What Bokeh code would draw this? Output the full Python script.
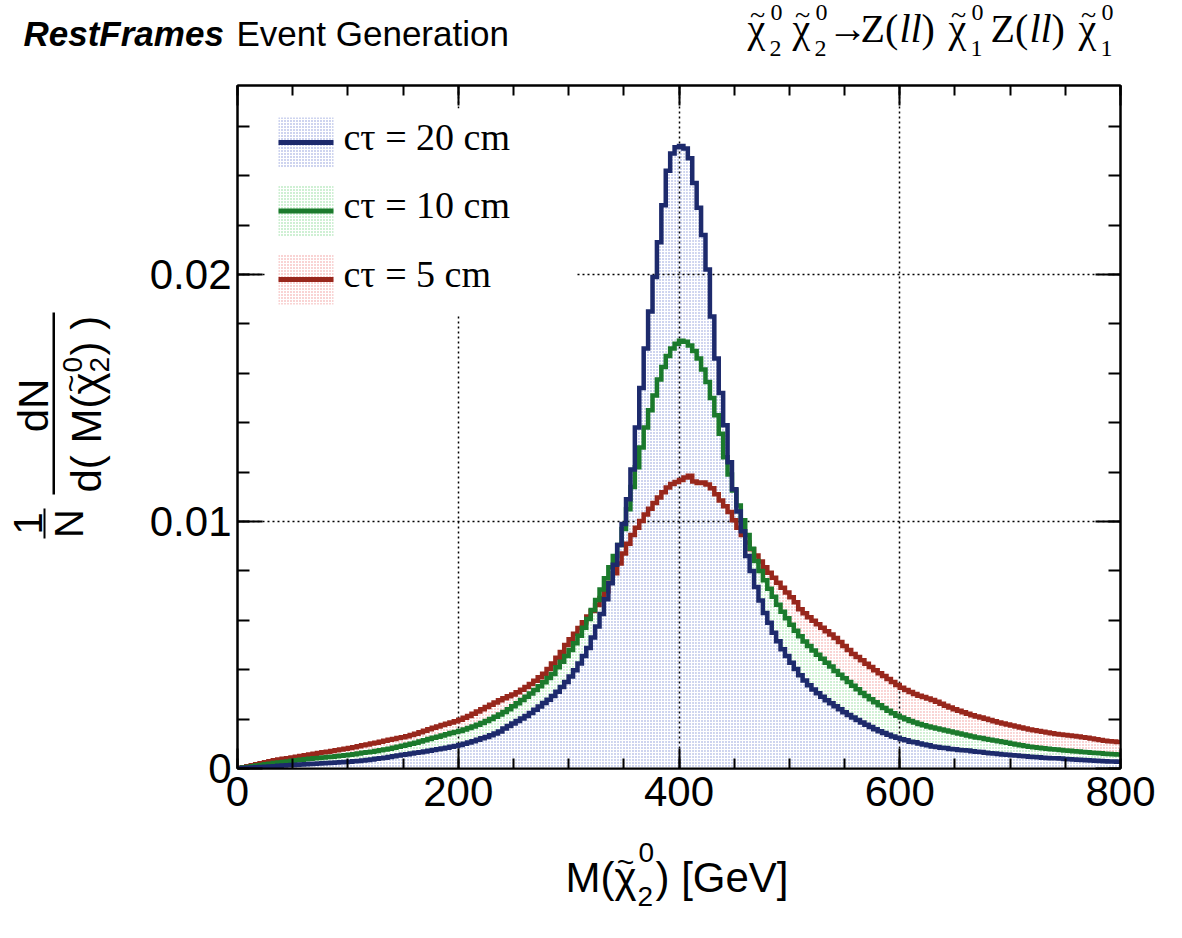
from bokeh.plotting import figure
from bokeh.layouts import column, row
from bokeh.models import (FixedTicker, LinearAxis, Range1d, Label, BoxAnnotation,
                          NumeralTickFormatter)
from bokeh.core.properties import value
from bokeh.embed import file_html
from bokeh.resources import INLINE

# ---------------------------------------------------------------------------
# Reconstructed neutralino mass, 200 bins of 4 GeV between 0 and 800 GeV.
# Normalised densities (1/N dN/dM) in units of 1e-5 per GeV.
# ---------------------------------------------------------------------------
bin_lo, bin_width, n_bins = 0.0, 4.0, 200
DENS_UNIT = 1e-5

ctau20 = [
    1, 2, 3, 4, 5, 6, 7, 8, 9, 11,
    12, 13, 14, 15, 16, 17, 18, 19, 20, 21,
    22, 23, 24, 25, 26, 27, 29, 30, 32, 34,
    36, 39, 42, 44, 47, 50, 53, 56, 58, 61,
    64, 66, 69, 72, 75, 78, 81, 84, 88, 91,
    95, 100, 105, 110, 116, 122, 128, 135, 142, 150,
    162, 172, 182, 192, 202, 213, 225, 238, 251, 265,
    278, 294, 311, 330, 350, 372, 398, 425, 455, 488,
    530, 575, 625, 685, 750, 825, 905, 990, 1090, 1210,
    1380, 1540, 1700, 1850, 1990, 2130, 2280, 2420, 2490, 2515,
    2520, 2510, 2470, 2370, 2270, 2160, 2020, 1830, 1660, 1520,
    1390, 1240, 1130, 1040, 960, 860, 800, 735, 680, 630,
    590, 550, 515, 483, 455, 428, 403, 378, 356, 337,
    320, 305, 290, 276, 264, 252, 240, 228, 217, 206,
    196, 186, 177, 168, 159, 151, 144, 137, 130, 124,
    118, 114, 108, 106, 101, 97, 94, 89, 87, 84,
    83, 79, 78, 75, 74, 73, 70, 68, 67, 64,
    62, 61, 59, 57, 56, 54, 53, 51, 50, 48,
    47, 46, 44, 43, 42, 41, 40, 38, 37, 36,
    35, 34, 33, 32, 31, 30, 29, 28, 28, 27,
]

ctau10 = [
    1, 4, 6, 9, 12, 14, 17, 19, 22, 24,
    26, 28, 31, 33, 35, 37, 39, 41, 43, 45,
    47, 48, 50, 52, 54, 56, 58, 61, 64, 66,
    68, 71, 74, 77, 80, 84, 88, 92, 96, 100,
    104, 109, 114, 119, 124, 129, 134, 139, 144, 148,
    152, 158, 164, 170, 177, 184, 192, 200, 209, 219,
    229, 240, 252, 264, 277, 290, 304, 318, 333, 349,
    366, 383, 410, 432, 455, 480, 507, 537, 570, 605,
    642, 682, 725, 770, 815, 860, 905, 970, 1050, 1140,
    1220, 1300, 1380, 1450, 1510, 1575, 1625, 1670, 1700, 1720,
    1732, 1728, 1712, 1690, 1660, 1615, 1565, 1500, 1430, 1355,
    1260, 1190, 1125, 1065, 1005, 945, 890, 840, 800, 762,
    728, 695, 663, 635, 608, 582, 558, 535, 514, 496,
    478, 461, 444, 428, 413, 395, 380, 365, 350, 335,
    321, 306, 293, 280, 268, 256, 245, 234, 224, 214,
    206, 199, 192, 186, 180, 175, 170, 166, 162, 158,
    154, 150, 146, 142, 138, 134, 130, 126, 123, 119,
    116, 113, 110, 107, 104, 100, 97, 94, 91, 88,
    86, 84, 82, 80, 78, 77, 75, 73, 72, 70,
    69, 67, 66, 64, 63, 62, 60, 59, 58, 57,
]

ctau5 = [
    2, 5, 9, 13, 17, 21, 25, 29, 33, 36,
    39, 42, 45, 48, 51, 54, 57, 60, 63, 66,
    68, 71, 74, 77, 80, 83, 86, 90, 94, 97,
    101, 104, 108, 112, 116, 119, 123, 127, 131, 136,
    141, 147, 153, 159, 165, 170, 176, 181, 186, 191,
    197, 205, 213, 222, 231, 240, 249, 258, 267, 276,
    284, 292, 300, 309, 319, 330, 342, 355, 369, 384,
    403, 425, 448, 472, 500, 523, 546, 569, 592, 615,
    638, 662, 690, 718, 752, 790, 830, 870, 910, 945,
    975, 1002, 1028, 1052, 1075, 1097, 1118, 1138, 1152, 1160,
    1168, 1178, 1185, 1162, 1156, 1158, 1150, 1135, 1110, 1085,
    1062, 1038, 1005, 975, 945, 915, 888, 862, 838, 815,
    792, 772, 752, 732, 712, 693, 673, 645, 628, 612,
    598, 584, 570, 556, 542, 528, 512, 496, 480, 464,
    451, 438, 424, 411, 398, 386, 374, 362, 350, 338,
    327, 318, 310, 302, 295, 289, 283, 277, 270, 262,
    254, 247, 240, 234, 228, 222, 216, 211, 206, 201,
    196, 191, 186, 182, 178, 174, 170, 166, 162, 158,
    155, 152, 149, 146, 143, 140, 138, 136, 134, 132,
    130, 127, 124, 121, 118, 115, 112, 110, 109, 107,
]

legend_labels = ["c\u03c4 = 20 cm", "c\u03c4 = 10 cm", "c\u03c4 = 5 cm"]
line_colors = ["#1d2a6c", "#1b7a2c", "#98271c"]
dot_colors = ["#8393d6", "#86d893", "#f09494"]

x_ticks = [0, 200, 400, 600, 800]
y_ticks = [0.0, 0.01, 0.02]

SANS = "Liberation Sans"
SERIF = "Liberation Serif"

# ---------------------------------------------------------------------------
# page geometry (pixels)
W, H = 1182, 938
HEAD_H = 80                 # header strip
LEFT_W = 130                # strip holding the rotated y title
MAIN_W, MAIN_H = W - LEFT_W, 753
XT_H = H - HEAD_H - MAIN_H  # strip holding the x title
FL, FR, FT, FB = 237, 1120, 85, 768          # frame edges on the page


def strip(x0, y0, w, h, pad_l=0, pad_r=0):
    """A blank figure whose data coordinates are page pixels."""
    f = figure(width=w, height=h, output_backend="svg", toolbar_location=None,
               x_axis_type=None, y_axis_type=None,
               x_range=Range1d(x0 + pad_l, x0 + w - pad_r),
               y_range=Range1d(y0 + h, y0),
               min_border=0, min_border_left=pad_l, min_border_right=pad_r,
               outline_line_color=None,
               background_fill_color="white", border_fill_color="white")
    f.xgrid.visible = False
    f.ygrid.visible = False
    return f


def txt(f, text, X, Y, size, font=SANS, style="normal", align="left", angle=0):
    """Text whose glyph box is centred on Y (or on X when rotated)."""
    f.text(x=[X], y=[Y], text=[text], text_font=value(font),
           text_font_size=value(f"{size}px"), text_font_style=style,
           text_align=align, text_baseline="middle", text_color="black",
           angle=angle, angle_units="deg")


# ---------------------------------------------------------------------------
# header strip
head = strip(0, 0, W, HEAD_H)
txt(head, "RestFrames", 23, 33, 35, style="bold italic")
txt(head, "Event Generation", 236, 33, 35)

TC = 28   # centre line of the process label
for cx, sub in ((747, "2"), (792, "2"), (948, "1"), (1078, "1")):
    txt(head, "\u03c7", cx, TC, 40, font=SERIF)
    txt(head, "~", cx + 10, 14, 28, font=SERIF, align="center")
    txt(head, sub, cx + 22, 48, 24, font=SERIF)
    txt(head, "0", cx + 23, 12, 24, font=SERIF)
txt(head, "\u2192", 827, TC, 40, font=SERIF)
for zx in (860, 990):
    txt(head, "Z(", zx, TC, 40, font=SERIF)
    txt(head, "ll", zx + 39, TC, 40, font=SERIF, style="italic")
    txt(head, ")", zx + 61, TC, 40, font=SERIF)

# ---------------------------------------------------------------------------
# left strip: rotated y title  1/N dN/d( M(chi2) )
left = strip(0, HEAD_H, LEFT_W, H - HEAD_H)
txt(left, "1", 27, 523, 40, align="center", angle=90)
left.quad(left=[43], right=[45], top=[508], bottom=[538], fill_color="black",
          line_color=None)
txt(left, "N", 68, 523, 40, align="center", angle=90)
txt(left, "dN", 33, 405, 42, align="center", angle=90)
left.quad(left=[52], right=[54.5], top=[312], bottom=[494], fill_color="black",
          line_color=None)
txt(left, "d( M(", 86, 492, 42, angle=90)
txt(left, "\u03c7", 86, 394, 42, angle=90)
txt(left, "~", 70, 383, 30, align="center", angle=90)
txt(left, "2", 99, 372, 28, angle=90)
txt(left, "0", 72, 372, 28, angle=90)
txt(left, ") )", 86, 355, 42, angle=90)

# ---------------------------------------------------------------------------
# bottom strip: x title  M(chi2) [GeV]; its frame lines up with the main frame
xts = strip(LEFT_W, HEAD_H + MAIN_H, MAIN_W, XT_H,
            pad_l=FL - LEFT_W, pad_r=W - FR)
XC = 877
txt(xts, "M(", 565, XC, 42)
txt(xts, "\u03c7", 614, XC, 42)
txt(xts, "~", 625, 861, 30, align="center")
txt(xts, "2", 637, 896, 28)
txt(xts, "0", 638, 852, 28)
txt(xts, ") [GeV]", 655, XC, 42)

# ---------------------------------------------------------------------------
# main histogram panel
p = figure(width=MAIN_W, height=MAIN_H, output_backend="svg",
           toolbar_location=None,
           x_range=Range1d(0, 800), y_range=Range1d(0, 0.02765),
           min_border_left=FL - LEFT_W, min_border_right=W - FR,
           min_border_top=FT - HEAD_H,
           min_border_bottom=MAIN_H - (FB - HEAD_H),
           background_fill_color="white", border_fill_color="white")
p.outline_line_color = "black"
p.outline_line_width = 2

xt = FixedTicker(ticks=x_ticks, minor_ticks=[v for v in range(0, 801, 50)])
yt = FixedTicker(ticks=y_ticks, minor_ticks=[i * 0.002 for i in range(14)])


def style_axis(ax, ticker, major_len, minor_len, labels):
    ax.ticker = ticker
    ax.axis_line_color = "black"
    ax.axis_line_width = 2
    ax.major_tick_line_color = "black"
    ax.major_tick_line_width = 2
    ax.minor_tick_line_color = "black"
    ax.minor_tick_line_width = 2
    ax.major_tick_in = major_len
    ax.major_tick_out = 0
    ax.minor_tick_in = minor_len
    ax.minor_tick_out = 0
    if labels:
        ax.major_label_text_font = SANS
        ax.major_label_text_font_size = "42px"
        ax.major_label_text_color = "black"
    else:
        # mirrored tick marks only, no numbers
        ax.major_label_text_font_size = "1px"
        ax.major_label_text_color = None
        ax.major_label_standoff = 0


style_axis(p.xaxis[0], xt, 20, 10, True)
style_axis(p.yaxis[0], yt, 25, 12, True)
p.xaxis[0].major_label_standoff = 8
p.yaxis[0].major_label_standoff = 6
p.yaxis[0].formatter = NumeralTickFormatter(format="0.[00]")

ax_top = LinearAxis()
style_axis(ax_top, xt, 20, 10, False)
p.add_layout(ax_top, "above")
ax_right = LinearAxis()
style_axis(ax_right, yt, 25, 12, False)
p.add_layout(ax_right, "right")

p.xgrid.ticker = FixedTicker(ticks=[200, 400, 600])
p.ygrid.ticker = FixedTicker(ticks=[0.01, 0.02])
for g in (p.xgrid, p.ygrid):
    g.grid_line_color = "black"
    g.grid_line_dash = "2 3"
    g.grid_line_width = 1.5

# histograms: dotted fills (widest first) then step outlines
edges = [bin_lo + i * bin_width for i in range(n_bins + 1)]
series = [ctau20, ctau10, ctau5]
dens = [[v * DENS_UNIT for v in s] for s in series]

for k in (2, 1, 0):
    p.quad(left=edges[:-1], right=edges[1:], bottom=0, top=dens[k],
           fill_color="white", fill_alpha=1.0, line_color=None,
           hatch_pattern=".", hatch_color=dot_colors[k], hatch_scale=3,
           hatch_weight=1.2, hatch_alpha=1.0, level="image")

for k in (2, 1, 0):
    p.step(x=edges, y=dens[k] + [dens[k][-1]], mode="after",
           line_color=line_colors[k], line_width=4.5, line_join="miter")


# legend inside the frame, placed in page pixels
def sx(X):
    return X - FL


def sy(Y):
    return FB - Y


def box(x0, x1, y0, y1, color=None, hatch=None, level="overlay"):
    kw = dict(left=sx(x0), right=sx(x1), top=sy(y0), bottom=sy(y1),
              left_units="screen", right_units="screen",
              top_units="screen", bottom_units="screen",
              line_color=None, level=level)
    if hatch is not None:
        kw.update(fill_color="white", fill_alpha=1.0, hatch_pattern=".",
                  hatch_color=hatch, hatch_scale=3, hatch_weight=1.2,
                  hatch_alpha=1.0)
    else:
        kw.update(fill_color=color, fill_alpha=1.0)
    p.add_layout(BoxAnnotation(**kw))


box(265, 575, 108, 315, color="white", level="annotation")
for i, lab in enumerate(legend_labels):
    yc = 142 + i * 68.5
    box(278, 333, yc - 25, yc + 25, hatch=dot_colors[i])
    box(278, 333, yc - 2.5, yc + 2.5, color=line_colors[i])
    p.add_layout(Label(x=sx(343), y=sy(yc + 15), x_units="screen",
                       y_units="screen", text=lab, text_font=SERIF,
                       text_font_size="38px", text_color="black",
                       level="overlay"))

page = column(head, row(left, column(p, xts, spacing=0), spacing=0), spacing=0)
open("out.html", "w").write(file_html(page, INLINE))
